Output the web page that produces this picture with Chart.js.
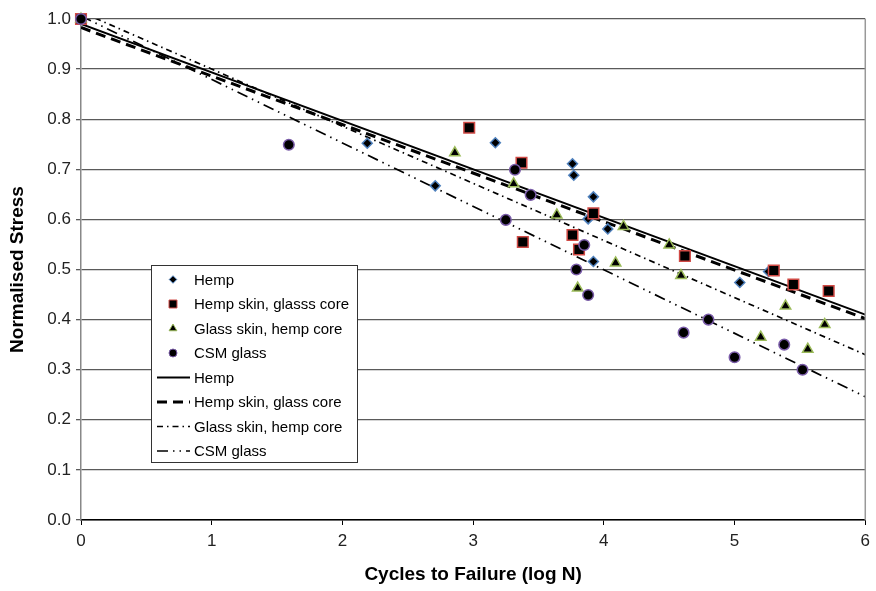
<!DOCTYPE html>
<html>
<head>
<meta charset="utf-8">
<script src="https://cdn.jsdelivr.net/npm/chart.js@4.4.1/dist/chart.umd.min.js"></script>
<style>
  body { margin: 0; background: #fff; }
  #wrap { width: 876px; height: 591px; }
</style>
</head>
<body>
<div id="wrap"><canvas id="grafico"></canvas></div>
<script>
// Dados (log N, tensão normalizada)
const hempX = [0, 2.19, 2.71, 3.17, 3.76, 3.77, 3.92, 3.88, 4.03, 3.92, 5.04, 5.26];
const hempY = [1.0, 0.752, 0.667, 0.753, 0.711, 0.688, 0.645, 0.601, 0.581, 0.516, 0.474, 0.496];

const hempSkinX = [0, 2.97, 3.37, 3.92, 3.38, 3.76, 3.81, 4.62, 5.30, 5.45, 5.72];
const hempSkinY = [1.0, 0.783, 0.713, 0.612, 0.555, 0.569, 0.540, 0.527, 0.498, 0.470, 0.457];

const glassSkinX = [0, 2.86, 3.31, 3.64, 4.15, 4.09, 3.80, 4.50, 4.59, 5.39, 5.69, 5.20, 5.56];
const glassSkinY = [1.0, 0.733, 0.671, 0.609, 0.586, 0.513, 0.463, 0.549, 0.488, 0.427, 0.390, 0.365, 0.341];

const csmX = [0, 1.59, 3.32, 3.44, 3.25, 3.85, 3.79, 3.88, 4.61, 4.80, 5.38, 5.00, 5.52];
const csmY = [1.0, 0.749, 0.699, 0.649, 0.599, 0.549, 0.500, 0.449, 0.374, 0.400, 0.350, 0.325, 0.300];

// Linhas de tendência (extremos em x = 0 e x = 6)
const lineX = [0, 6];
const hempLineY = [0.990, 0.410];
const hempSkinLineY = [0.983, 0.402];
const glassSkinLineY = [1.014, 0.330];
const csmLineY = [1.006, 0.246];

const xTicks = [0, 1, 2, 3, 4, 5, 6];
const yTicks = [0, 0.1, 0.2, 0.3, 0.4, 0.5, 0.6, 0.7, 0.8, 0.9, 1.0];

const FONT = '"Liberation Sans", Arial, sans-serif';

function pares(xs, ys) {
    return xs.map((x, i) => ({ x: x, y: ys[i] }));
}

function pontos(label, xs, ys, style, radius, border) {
    return {
        label: label,
        data: pares(xs, ys),
        showLine: false,
        pointStyle: style,
        pointRadius: radius,
        pointHoverRadius: radius,
        pointBackgroundColor: '#000',
        pointBorderColor: border,
        pointBorderWidth: 1.5,
        clip: false
    };
}

function linha(label, ys, width, dash) {
    return {
        label: label,
        data: pares(lineX, ys),
        showLine: true,
        borderColor: '#000',
        borderWidth: width,
        borderDash: dash,
        pointRadius: 0,
        fill: false
    };
}

// Chart.js desenha o dataset 0 por cima: marcadores primeiro, linhas no fim
const datasets = [
    pontos('CSM glass', csmX, csmY, 'circle', 5.3, '#7a5ca8'),
    pontos('Glass skin, hemp core', glassSkinX, glassSkinY, 'triangle', 6, '#9bbb59'),
    pontos('Hemp skin, glasss core', hempSkinX, hempSkinY, 'rect', 7.5, '#d04a45'),
    pontos('Hemp', hempX, hempY, 'rectRot', 5, '#4f81bd'),
    linha('Hemp', hempLineY, 2, []),
    linha('Hemp skin, glass core', hempSkinLineY, 3, [10, 6]),
    linha('Glass skin, hemp core', glassSkinLineY, 1.7, [6, 4, 1.5, 4]),
    linha('CSM glass', csmLineY, 1.7, [11, 5, 1.5, 5, 1.5, 5])
];

// ordem da legenda (índices dos datasets)
const ordemLegenda = [3, 2, 1, 0, 4, 5, 6, 7];

// Legenda dentro da área do gráfico, com moldura
const legendaInterna = {
    id: 'legendaInterna',
    afterDraw(chart) {
        const { ctx, chartArea } = chart;
        const left = chartArea.left + 70;
        const top = chartArea.top + 246;
        const w = 206, h = 197, passo = 24.5;

        ctx.save();
        // borda direita da área
        ctx.strokeStyle = '#999';
        ctx.lineWidth = 1.5;
        ctx.beginPath();
        ctx.moveTo(chartArea.right, chartArea.top);
        ctx.lineTo(chartArea.right, chartArea.bottom);
        ctx.stroke();

        ctx.fillStyle = '#fff';
        ctx.fillRect(left, top, w, h);
        ctx.strokeStyle = '#333';
        ctx.lineWidth = 1;
        ctx.strokeRect(left + 0.5, top + 0.5, w, h);

        ctx.font = '15px ' + FONT;
        ctx.textBaseline = 'middle';
        ordemLegenda.forEach((idx, i) => {
            const ds = datasets[idx];
            const y = top + 14.5 + i * passo;
            if (ds.showLine) {
                ctx.strokeStyle = '#000';
                ctx.lineWidth = ds.borderWidth;
                ctx.setLineDash(ds.borderDash);
                ctx.beginPath();
                ctx.moveTo(left + 6, y);
                ctx.lineTo(left + 39, y);
                ctx.stroke();
                ctx.setLineDash([]);
            } else {
                ctx.fillStyle = ds.pointBackgroundColor;
                ctx.strokeStyle = ds.pointBorderColor;
                ctx.lineWidth = 1;
                Chart.helpers.drawPoint(ctx, {
                    pointStyle: ds.pointStyle,
                    radius: ds.pointRadius * 0.75,
                    rotation: 0,
                    borderWidth: 1
                }, left + 22, y);
            }
            ctx.fillStyle = '#000';
            ctx.fillText(ds.label, left + 43, y + 1);
        });
        ctx.restore();
    }
};

new Chart(document.getElementById('grafico'), {
    type: 'scatter',
    data: { datasets: datasets },
    options: {
        responsive: true,
        maintainAspectRatio: false,
        animation: false,
        layout: { padding: { left: 0, right: 7, top: 19, bottom: 0 }, autoPadding: false },
        plugins: {
            legend: { display: false },
            tooltip: { enabled: false }
        },
        scales: {
            x: {
                type: 'linear',
                min: 0,
                max: 6,
                afterBuildTicks(scale) { scale.ticks = xTicks.map(v => ({ value: v })); },
                afterFit(scale) { scale.height = 71; },
                ticks: {
                    color: '#222',
                    padding: 6,
                    font: { family: FONT, size: 17 },
                    callback: v => String(v)
                },
                grid: { drawOnChartArea: false, drawTicks: true, tickLength: 5, tickColor: '#000' },
                border: { display: true, color: '#000', width: 1.5 },
                title: {
                    display: true,
                    text: 'Cycles to Failure (log N)',
                    color: '#000',
                    font: { family: FONT, size: 19, weight: 'bold' },
                    padding: { top: 0, bottom: 5 }
                }
            },
            y: {
                type: 'linear',
                min: 0,
                max: 1,
                afterBuildTicks(scale) { scale.ticks = yTicks.map(v => ({ value: v })); },
                afterFit(scale) { scale.width = 81; },
                ticks: {
                    color: '#222',
                    padding: 5,
                    font: { family: FONT, size: 17 },
                    callback: v => v.toFixed(1)
                },
                grid: { color: '#5a5a5a', lineWidth: 1.3, tickLength: 5, tickColor: '#5a5a5a' },
                border: { display: true, color: '#888', width: 1.5 },
                title: {
                    display: true,
                    text: 'Normalised Stress',
                    color: '#000',
                    font: { family: FONT, size: 19, weight: 'bold' },
                    padding: { top: 6, bottom: 0 }
                }
            }
        }
    },
    plugins: [legendaInterna]
});
</script>
</body>
</html>
